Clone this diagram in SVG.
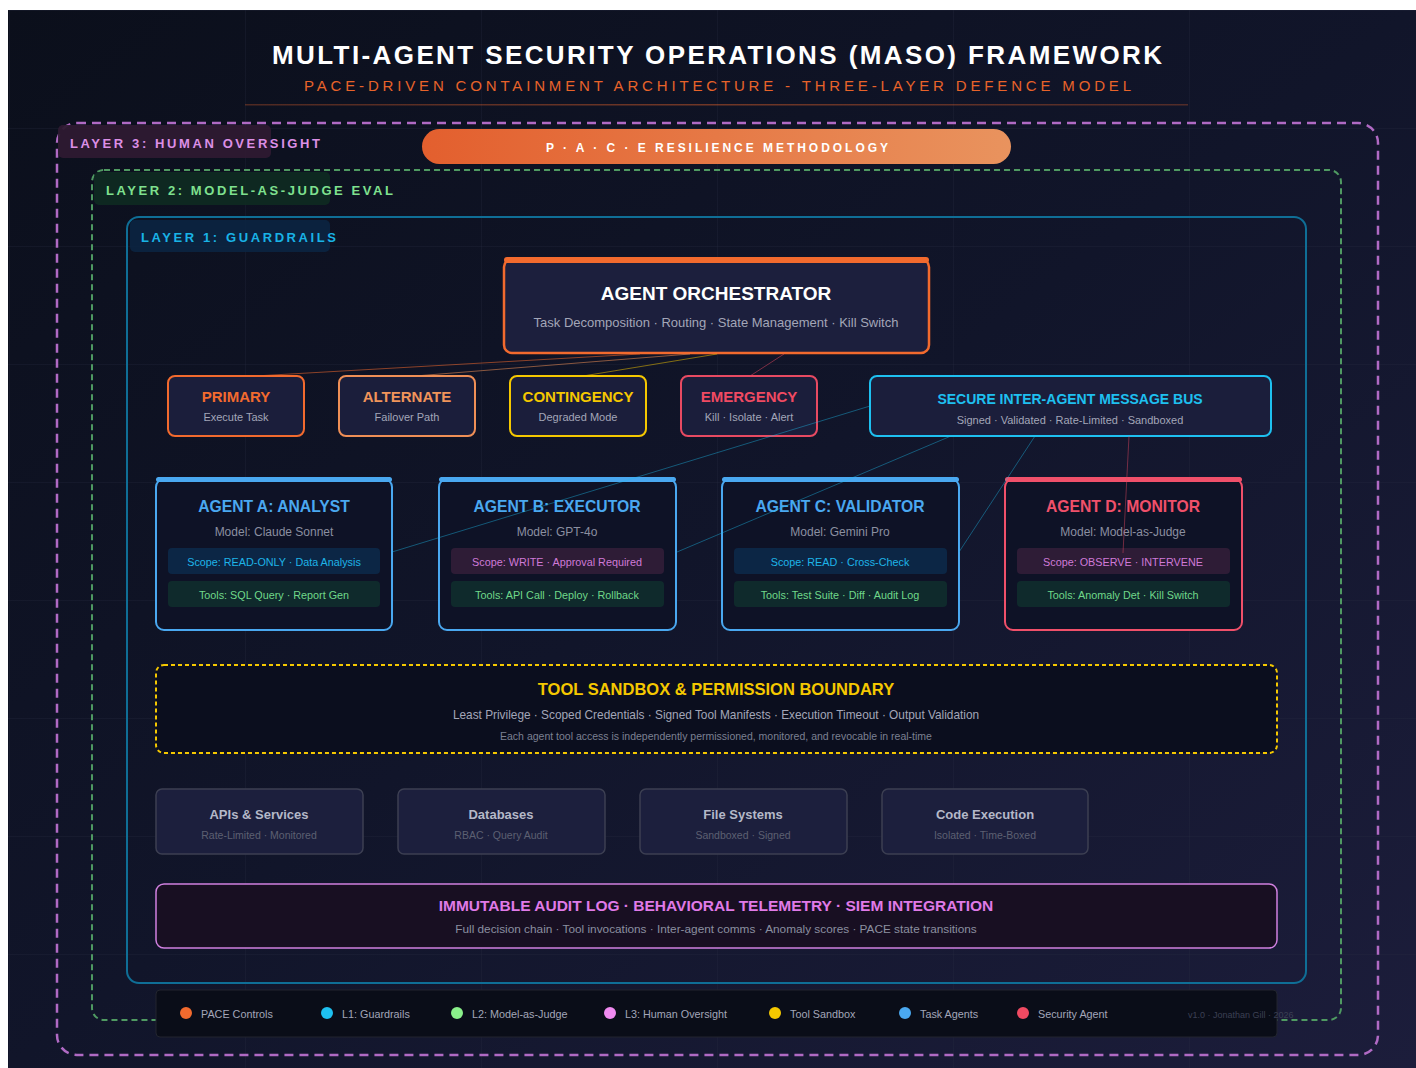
<svg xmlns="http://www.w3.org/2000/svg" width="1416" height="1068" viewBox="0 0 1416 1068">
  <defs>
    <linearGradient id="bgGrad" x1="0" y1="0" x2="1" y2="1">
      <stop offset="0" stop-color="#0b0f1b"/>
      <stop offset="0.5" stop-color="#11152a"/>
      <stop offset="1" stop-color="#1c1d3b"/>
    </linearGradient>
    <linearGradient id="paceGrad" x1="0" y1="0" x2="1" y2="0">
      <stop offset="0" stop-color="#e35f2e"/>
      <stop offset="1" stop-color="#e9935e"/>
    </linearGradient>
    <linearGradient id="ruleGrad" x1="0" y1="0" x2="1" y2="0">
      <stop offset="0" stop-color="#e8632a" stop-opacity="0.3"/>
      <stop offset="0.5" stop-color="#e8632a" stop-opacity="0.45"/>
      <stop offset="1" stop-color="#e8632a" stop-opacity="0.3"/>
    </linearGradient>
    <pattern id="grid" x="9" y="10" width="236" height="118" patternUnits="userSpaceOnUse">
      <path d="M0 0 V118 M0 0 H236" fill="none" stroke="#262a40" stroke-width="1" opacity="0.55"/>
    </pattern>
    <style>
      text { font-family: "Liberation Sans", Arial, sans-serif; }
      .title { font-size: 26px; font-weight: bold; fill: #ffffff; }
      .subtitle { font-size: 15px; fill: #e8632a; }
      .layerLbl { font-size: 13px; font-weight: bold; }
      .pace { fill: #1b1e3b; stroke-width: 2; }
      .paceT { font-size: 15px; font-weight: bold; text-anchor: middle; }
      .paceS { font-size: 11px; fill: #a3a6b8; text-anchor: middle; }
      .agent { fill: #0e1226; stroke-width: 2; }
      .agentT { font-size: 15.7px; font-weight: bold; text-anchor: middle; }
      .agentM { font-size: 12px; fill: #8b8fa0; text-anchor: middle; }
      .chip { font-size: 10.8px; text-anchor: middle; }
      .scopeBlue { fill: #0c2645; }
      .scopePurple { fill: #2e1c36; }
      .tools { fill: #0f2a2c; }
      .res { fill: #1c1f3d; stroke: #3c3f52; stroke-width: 1.5; }
      .resT { font-size: 13px; font-weight: bold; fill: #b4b8c8; text-anchor: middle; }
      .resS { font-size: 10.5px; fill: #5c6072; text-anchor: middle; }
      .legT { font-size: 10.8px; fill: #a3a6b8; }
      .conn { fill: none; stroke-width: 1; }
    </style>
  </defs>

  <!-- canvas -->
  <rect x="0" y="0" width="1416" height="1068" fill="#ffffff"/>
  <rect x="8" y="10" width="1408" height="1058" fill="url(#bgGrad)"/>
  <rect x="8" y="10" width="1408" height="1058" fill="url(#grid)"/>

  <!-- heading -->
  <g id="heading">
    <text class="title" x="272" y="64" textLength="890" lengthAdjust="spacing">MULTI-AGENT SECURITY OPERATIONS (MASO) FRAMEWORK</text>
    <text class="subtitle" x="304" y="91" textLength="827" lengthAdjust="spacing">PACE-DRIVEN CONTAINMENT ARCHITECTURE - THREE-LAYER DEFENCE MODEL</text>
    <rect x="245" y="104" width="943" height="1.5" fill="url(#ruleGrad)"/>
  </g>

  <!-- layer 3 -->
  <g id="layer3">
    <rect x="57" y="123" width="1321" height="932" rx="20" fill="none" stroke="#b06ac4" stroke-width="2.5" stroke-dasharray="9 6"/>
    <rect x="58" y="125" width="213" height="33" rx="5" fill="#2e1a32" opacity="0.95"/>
    <text class="layerLbl" x="70" y="148" fill="#dc8fe6" textLength="250" lengthAdjust="spacing">LAYER 3: HUMAN OVERSIGHT</text>
  </g>

  <!-- PACE banner -->
  <g id="pace-banner">
    <rect x="422" y="129" width="589" height="35" rx="17.5" fill="url(#paceGrad)"/>
    <text x="546" y="152" font-size="12" font-weight="bold" fill="#ffffff" textLength="342" lengthAdjust="spacing">P · A · C · E RESILIENCE METHODOLOGY</text>
  </g>

  <!-- layer 2 -->
  <g id="layer2">
    <rect x="92" y="170" width="1249" height="850" rx="12" fill="none" stroke="#4f9a62" stroke-width="2" stroke-dasharray="6 4"/>
    <rect x="94" y="172" width="236" height="33" rx="5" fill="#0f2a22" opacity="0.95"/>
    <text class="layerLbl" x="106" y="195" fill="#7fe08f" textLength="287" lengthAdjust="spacing">LAYER 2: MODEL-AS-JUDGE EVAL</text>
  </g>

  <!-- layer 1 -->
  <g id="layer1">
    <rect x="127" y="217" width="1179" height="766" rx="12" fill="none" stroke="#0f6e96" stroke-width="2"/>
    <rect x="130" y="220" width="200" height="32" rx="5" fill="#0c2440" opacity="0.95"/>
    <text class="layerLbl" x="141" y="242" fill="#19b3e6" textLength="195" lengthAdjust="spacing">LAYER 1: GUARDRAILS</text>
  </g>

  <!-- orchestrator -->
  <g id="orchestrator">
    <rect x="504" y="259" width="425" height="94" rx="8" fill="#1c1f3d" stroke="#f26a2e" stroke-width="2.5"/>
    <rect x="504" y="257" width="425" height="6" rx="3" fill="#f26a2e"/>
    <text x="716" y="300" font-size="19" font-weight="bold" fill="#ffffff" text-anchor="middle">AGENT ORCHESTRATOR</text>
    <text x="716" y="327" font-size="13" fill="#a3a6b8" text-anchor="middle">Task Decomposition · Routing · State Management · Kill Switch</text>
  </g>

  <!-- PACE states -->
  <g id="primary">
    <rect class="pace" x="168" y="376" width="136" height="60" rx="7" stroke="#f26a2e"/>
    <text class="paceT" x="236" y="402" fill="#f26a2e">PRIMARY</text>
    <text class="paceS" x="236" y="421">Execute Task</text>
  </g>
  <g id="alternate">
    <rect class="pace" x="339" y="376" width="136" height="60" rx="7" stroke="#ef8f56"/>
    <text class="paceT" x="407" y="402" fill="#f0945a">ALTERNATE</text>
    <text class="paceS" x="407" y="421">Failover Path</text>
  </g>
  <g id="contingency">
    <rect class="pace" x="510" y="376" width="136" height="60" rx="7" stroke="#f5c800"/>
    <text class="paceT" x="578" y="402" fill="#f5c800">CONTINGENCY</text>
    <text class="paceS" x="578" y="421">Degraded Mode</text>
  </g>
  <g id="emergency">
    <rect class="pace" x="681" y="376" width="136" height="60" rx="7" stroke="#e84a62"/>
    <text class="paceT" x="749" y="402" fill="#f04a62">EMERGENCY</text>
    <text class="paceS" x="749" y="421">Kill · Isolate · Alert</text>
  </g>

  <!-- message bus -->
  <g id="message-bus">
    <rect x="870" y="376" width="401" height="60" rx="7" fill="#1b1e3b" stroke="#1ec0f0" stroke-width="2"/>
    <text x="1070" y="404" font-size="14" font-weight="bold" fill="#1ec0f0" text-anchor="middle">SECURE INTER-AGENT MESSAGE BUS</text>
    <text x="1070" y="424" font-size="11" fill="#a3a6b8" text-anchor="middle">Signed · Validated · Rate-Limited · Sandboxed</text>
  </g>

  <!-- agents -->
  <g id="agent-a">
    <rect class="agent" x="156" y="479" width="236" height="151" rx="8" stroke="#4aa8f0"/>
    <rect x="156" y="477" width="236" height="5" rx="2.5" fill="#4aa8f0"/>
    <text class="agentT" x="274" y="512" fill="#4aa8f0">AGENT A: ANALYST</text>
    <text class="agentM" x="274" y="536">Model: Claude Sonnet</text>
    <rect class="scopeBlue" x="168" y="548" width="212" height="26" rx="4"/>
    <text class="chip" x="274" y="566" fill="#1eb4e8">Scope: READ-ONLY · Data Analysis</text>
    <rect class="tools" x="168" y="581" width="212" height="26" rx="4"/>
    <text class="chip" x="274" y="599" fill="#6fd88a">Tools: SQL Query · Report Gen</text>
  </g>
  <g id="agent-b">
    <rect class="agent" x="439" y="479" width="237" height="151" rx="8" stroke="#4aa8f0"/>
    <rect x="439" y="477" width="237" height="5" rx="2.5" fill="#4aa8f0"/>
    <text class="agentT" x="557" y="512" fill="#4aa8f0">AGENT B: EXECUTOR</text>
    <text class="agentM" x="557" y="536">Model: GPT-4o</text>
    <rect class="scopePurple" x="451" y="548" width="213" height="26" rx="4"/>
    <text class="chip" x="557" y="566" fill="#d07ad8">Scope: WRITE · Approval Required</text>
    <rect class="tools" x="451" y="581" width="213" height="26" rx="4"/>
    <text class="chip" x="557" y="599" fill="#6fd88a">Tools: API Call · Deploy · Rollback</text>
  </g>
  <g id="agent-c">
    <rect class="agent" x="722" y="479" width="237" height="151" rx="8" stroke="#4aa8f0"/>
    <rect x="722" y="477" width="237" height="5" rx="2.5" fill="#4aa8f0"/>
    <text class="agentT" x="840" y="512" fill="#4aa8f0">AGENT C: VALIDATOR</text>
    <text class="agentM" x="840" y="536">Model: Gemini Pro</text>
    <rect class="scopeBlue" x="734" y="548" width="213" height="26" rx="4"/>
    <text class="chip" x="840" y="566" fill="#1eb4e8">Scope: READ · Cross-Check</text>
    <rect class="tools" x="734" y="581" width="213" height="26" rx="4"/>
    <text class="chip" x="840" y="599" fill="#6fd88a">Tools: Test Suite · Diff · Audit Log</text>
  </g>
  <g id="agent-d">
    <rect class="agent" x="1005" y="479" width="237" height="151" rx="8" stroke="#f0506a"/>
    <rect x="1005" y="477" width="237" height="5" rx="2.5" fill="#f0506a"/>
    <text class="agentT" x="1123" y="512" fill="#f0506a">AGENT D: MONITOR</text>
    <text class="agentM" x="1123" y="536">Model: Model-as-Judge</text>
    <rect class="scopePurple" x="1017" y="548" width="213" height="26" rx="4"/>
    <text class="chip" x="1123" y="566" fill="#d07ad8">Scope: OBSERVE · INTERVENE</text>
    <rect class="tools" x="1017" y="581" width="213" height="26" rx="4"/>
    <text class="chip" x="1123" y="599" fill="#6fd88a">Tools: Anomaly Det · Kill Switch</text>
  </g>

  <!-- connectors -->
  <g id="connectors">
    <line class="conn" x1="640" y1="354" x2="255" y2="376" stroke="#f26a2e" stroke-opacity="0.55"/>
    <line class="conn" x1="690" y1="354" x2="415" y2="376" stroke="#ef8f56" stroke-opacity="0.55"/>
    <line class="conn" x1="717" y1="354" x2="583" y2="376" stroke="#f5c800" stroke-opacity="0.5"/>
    <line class="conn" x1="784" y1="354" x2="750" y2="376" stroke="#e84a62" stroke-opacity="0.5"/>
    <line class="conn" x1="870" y1="406" x2="392" y2="552" stroke="#1ec0f0" stroke-opacity="0.4"/>
    <line class="conn" x1="951" y1="436" x2="677" y2="552" stroke="#1ec0f0" stroke-opacity="0.4"/>
    <line class="conn" x1="1035" y1="436" x2="959" y2="552" stroke="#1ec0f0" stroke-opacity="0.4"/>
    <line class="conn" x1="1129" y1="436" x2="1123" y2="553" stroke="#e84a62" stroke-opacity="0.45"/>
  </g>

  <!-- sandbox -->
  <g id="tool-sandbox">
    <rect x="156" y="665" width="1121" height="88" rx="8" fill="#0b0e1e" stroke="#f5c800" stroke-width="2" stroke-dasharray="4 3"/>
    <text x="716" y="695" font-size="16.5" font-weight="bold" fill="#f5c800" text-anchor="middle">TOOL SANDBOX &amp; PERMISSION BOUNDARY</text>
    <text x="716" y="719" font-size="11.85" fill="#a3a6b8" text-anchor="middle">Least Privilege · Scoped Credentials · Signed Tool Manifests · Execution Timeout · Output Validation</text>
    <text x="716" y="740" font-size="10.5" fill="#7c8092" text-anchor="middle">Each agent tool access is independently permissioned, monitored, and revocable in real-time</text>
  </g>

  <!-- resources -->
  <g id="res-apis">
    <rect class="res" x="156" y="789" width="207" height="65" rx="6"/>
    <text class="resT" x="259" y="819">APIs &amp; Services</text>
    <text class="resS" x="259" y="839">Rate-Limited · Monitored</text>
  </g>
  <g id="res-databases">
    <rect class="res" x="398" y="789" width="207" height="65" rx="6"/>
    <text class="resT" x="501" y="819">Databases</text>
    <text class="resS" x="501" y="839">RBAC · Query Audit</text>
  </g>
  <g id="res-files">
    <rect class="res" x="640" y="789" width="207" height="65" rx="6"/>
    <text class="resT" x="743" y="819">File Systems</text>
    <text class="resS" x="743" y="839">Sandboxed · Signed</text>
  </g>
  <g id="res-code">
    <rect class="res" x="882" y="789" width="206" height="65" rx="6"/>
    <text class="resT" x="985" y="819">Code Execution</text>
    <text class="resS" x="985" y="839">Isolated · Time-Boxed</text>
  </g>

  <!-- audit -->
  <g id="audit-log">
    <rect x="156" y="884" width="1121" height="64" rx="8" fill="#180f22" stroke="#d080e0" stroke-width="1.5"/>
    <text x="716" y="911" font-size="15.5" font-weight="bold" fill="#e07ae8" text-anchor="middle">IMMUTABLE AUDIT LOG · BEHAVIORAL TELEMETRY · SIEM INTEGRATION</text>
    <text x="716" y="933" font-size="11.8" fill="#8b8fa0" text-anchor="middle">Full decision chain · Tool invocations · Inter-agent comms · Anomaly scores · PACE state transitions</text>
  </g>

  <!-- legend -->
  <g id="legend">
    <rect x="156" y="990" width="1121" height="47" rx="4" fill="#0a0d18" stroke="#22252f" stroke-width="1"/>
    <circle cx="186" cy="1013" r="6" fill="#f26a2e"/><text class="legT" x="201" y="1018">PACE Controls</text>
    <circle cx="327" cy="1013" r="6" fill="#1ec0f0"/><text class="legT" x="342" y="1018">L1: Guardrails</text>
    <circle cx="457" cy="1013" r="6" fill="#8af08a"/><text class="legT" x="472" y="1018">L2: Model-as-Judge</text>
    <circle cx="610" cy="1013" r="6" fill="#f08af0"/><text class="legT" x="625" y="1018">L3: Human Oversight</text>
    <circle cx="775" cy="1013" r="6" fill="#f5c800"/><text class="legT" x="790" y="1018">Tool Sandbox</text>
    <circle cx="905" cy="1013" r="6" fill="#4aa8f0"/><text class="legT" x="920" y="1018">Task Agents</text>
    <circle cx="1023" cy="1013" r="6" fill="#f04a62"/><text class="legT" x="1038" y="1018">Security Agent</text>
    <text x="1188" y="1018" font-size="9" fill="#3c4054">v1.0 · Jonathan Gill · 2026</text>
  </g>
</svg>
